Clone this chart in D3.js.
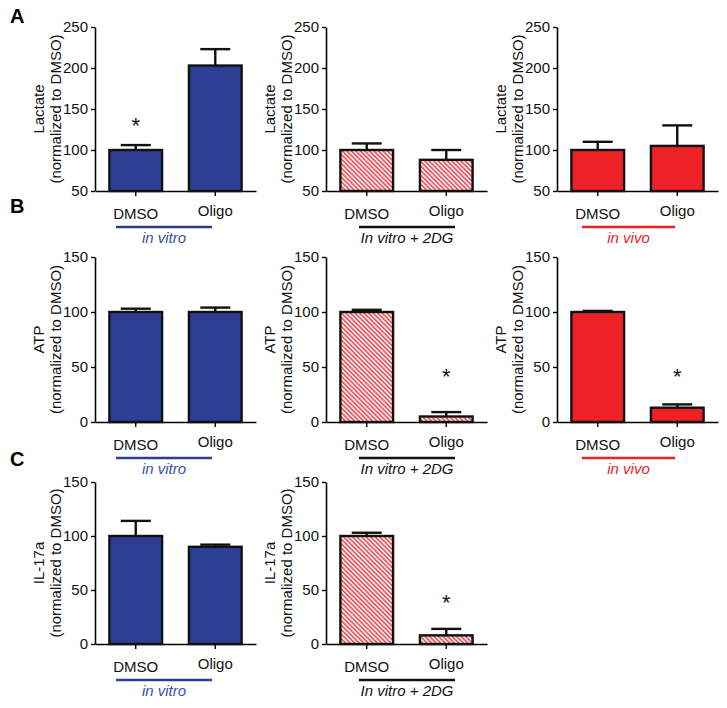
<!DOCTYPE html>
<html><head><meta charset="utf-8">
<script src="https://cdn.jsdelivr.net/npm/d3@7"></script>
<style>
html,body{margin:0;padding:0;background:#fff;}
svg{display:block;font-family:Arial,"Liberation Sans",sans-serif;}
</style></head>
<body>
<svg id="chart" width="727" height="708"></svg>
<script>
// ---- data ----
const categories = ["DMSO", "Oligo"];
const groups = ["in vitro", "In vitro + 2DG", "in vivo"];
const measures = ["Lactate", "ATP", "IL-17a"];
const panelLetters = ["A", "B", "C"];

const lactateMean = [[100, 203], [100, 88], [100, 105]];
const lactateErr  = [[106, 223], [108, 100], [110, 130]];
const lactateStar = [[133, null], [null, null], [null, null]];
const lactateTicks = [50, 100, 150, 200, 250];

const atpMean = [[100, 100], [100, 5], [100, 13]];
const atpErr  = [[103, 104], [102, 9], [101, 16]];
const atpStar = [[null, null], [null, 44], [null, 44]];
const atpTicks = [0, 50, 100, 150];

const il17Mean = [[100, 90], [100, 8]];
const il17Err  = [[114, 92], [103, 14]];
const il17Star = [[null, null], [null, 41]];
const il17Ticks = [0, 50, 100, 150];

// ---- layout ----
const svg = d3.select("#chart");
const colX = [95, 326, 557];
const axisW = 161;
const rows = [
  {measure: measures[0], mean: lactateMean, err: lactateErr, star: lactateStar, ticks: lactateTicks, yTop: 27, yBot: 191, letterY: 23},
  {measure: measures[1], mean: atpMean, err: atpErr, star: atpStar, ticks: atpTicks, yTop: 257, yBot: 422, letterY: 213},
  {measure: measures[2], mean: il17Mean, err: il17Err, star: il17Star, ticks: il17Ticks, yTop: 482, yBot: 644, letterY: 466}
];
const groupColor = ["#2c3f94", "hatch", "#ee2127"];
const groupTextColor = ["#3b4fae", "#111", "#ee2127"];
const groupLineColor = ["#2e3b8e", "#111", "#ee2127"];
const lineOffsets = [[21, 117], [33, 129], [25, 118]];

// hatch pattern
const defs = svg.append("defs");
const pat = defs.append("pattern").attr("id", "hatch").attr("patternUnits", "userSpaceOnUse")
  .attr("width", 3.2).attr("height", 3.2).attr("patternTransform", "rotate(-45)");
pat.append("rect").attr("width", 3.2).attr("height", 3.2).attr("fill", "#fde8e8");
pat.append("rect").attr("x", 0).attr("width", 1.5).attr("height", 3.2).attr("fill", "#e8525c");

const x = d3.scaleBand().domain(categories).range([0, axisW]).paddingInner(0.3375).paddingOuter(0.181);

rows.forEach((row, ri) => {
  svg.append("text").attr("x", 10).attr("y", row.letterY)
    .attr("font-size", 20).attr("font-weight", "bold").text(panelLetters[ri]);

  row.mean.forEach((vals, ci) => {
    const g = svg.append("g").attr("transform", `translate(${colX[ci]},0)`);
    const y = d3.scaleLinear().domain(d3.extent(row.ticks)).range([row.yBot, row.yTop]);

    // y axis
    const ya = g.append("g").call(d3.axisLeft(y).tickValues(row.ticks).tickSize(4).tickPadding(3).tickSizeOuter(0));
    ya.selectAll("text").attr("font-size", 15).attr("fill", "#111");
    ya.select(".domain").attr("stroke-width", 1.6);
    ya.selectAll(".tick line").attr("stroke-width", 1.4);

    // x axis
    const xa = g.append("g").attr("transform", `translate(0,${row.yBot})`)
      .call(d3.axisBottom(x).tickSize(5).tickSizeOuter(0).tickFormat(""));
    xa.select(".domain").attr("stroke-width", 1.6);
    xa.selectAll(".tick line").attr("stroke-width", 1.4);

    // category labels
    g.selectAll(".cat").data(categories).enter().append("text")
      .attr("x", d => x(d) + x.bandwidth() / 2)
      .attr("y", (d, i) => row.yBot + (i === 0 ? 28 : 25))
      .attr("text-anchor", "middle").attr("font-size", 15).attr("fill", "#111").text(d => d);

    // y label
    const cy = (row.yTop + row.yBot) / 2;
    [row.measure, "(normalized to DMSO)"].forEach((t, li) => {
      g.append("text").attr("transform", `translate(${li === 0 ? -57 : -40},${cy}) rotate(-90)`)
        .attr("text-anchor", "middle").attr("dominant-baseline", "central")
        .attr("font-size", 15).attr("fill", "#111").text(t);
    });

    const fill = groupColor[ci] === "hatch" ? "url(#hatch)" : groupColor[ci];
    const y0 = y.domain()[0];

    // error bars
    categories.forEach((c, k) => {
      const cx = x(c) + x.bandwidth() / 2;
      g.append("line").attr("x1", cx).attr("x2", cx).attr("y1", y(vals[k])).attr("y2", y(row.err[ci][k]))
        .attr("stroke", "#111").attr("stroke-width", 2.4);
      g.append("line").attr("x1", cx - 15).attr("x2", cx + 15).attr("y1", y(row.err[ci][k])).attr("y2", y(row.err[ci][k]))
        .attr("stroke", "#111").attr("stroke-width", 2.4);
    });

    // bars
    g.selectAll(".bar").data(categories).enter().append("rect")
      .attr("x", d => x(d)).attr("width", x.bandwidth())
      .attr("y", (d, k) => y(vals[k])).attr("height", (d, k) => y(y0) - y(vals[k]))
      .attr("fill", fill).attr("stroke", "#111").attr("stroke-width", 2.4);

    // stars
    categories.forEach((c, k) => {
      const s = row.star[ci][k];
      if (s !== null) {
        g.append("text").attr("x", x(c) + x.bandwidth() / 2).attr("y", y(s) + 10)
          .attr("text-anchor", "middle").attr("font-size", 22).attr("fill", "#111").text("*");
      }
    });

    // group line + label
    const lo = lineOffsets[ci];
    g.append("line").attr("x1", lo[0]).attr("x2", lo[1]).attr("y1", row.yBot + 36).attr("y2", row.yBot + 36)
      .attr("stroke", groupLineColor[ci]).attr("stroke-width", 2.4);
    g.append("text").attr("x", (lo[0] + lo[1]) / 2).attr("y", row.yBot + 52)
      .attr("text-anchor", "middle").attr("font-size", 15).attr("font-style", "italic")
      .attr("fill", groupTextColor[ci]).text(groups[ci]);
  });
});
</script>
</body></html>
